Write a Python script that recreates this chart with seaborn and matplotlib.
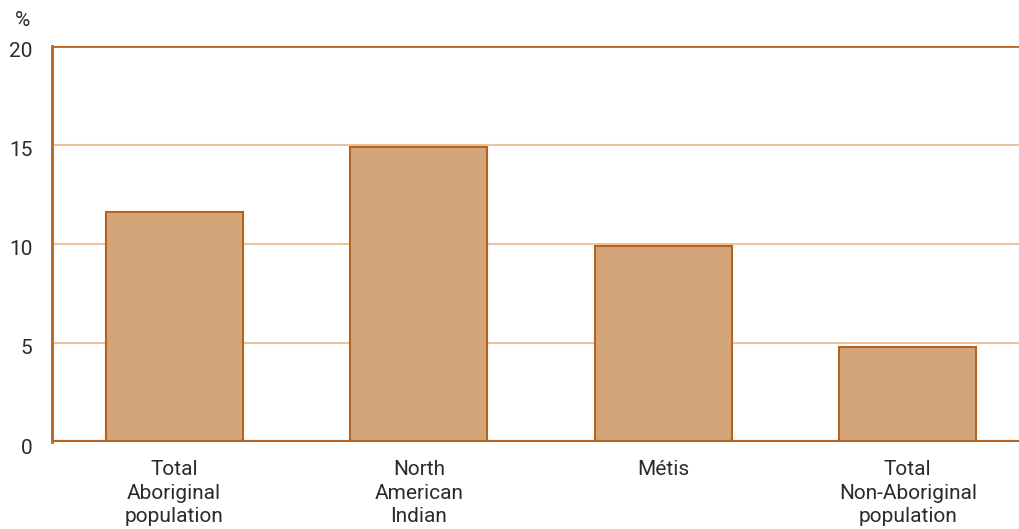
import matplotlib
matplotlib.use("Agg")
import matplotlib.pyplot as plt
import matplotlib.transforms as mtrans
import seaborn as sns
import pandas as pd

categories = ["Total\nAboriginal\npopulation", "North\nAmerican\nIndian", "Métis", "Total\nNon-Aboriginal\npopulation"]
values = [11.6, 14.9, 9.9, 4.8]
yticks = [0, 5, 10, 15, 20]

sns.set_theme(style="white")
plt.rcParams["font.family"] = ["Roboto", "DejaVu Sans"]

fill = "#D5A57A"
edge = "#B5631E"
grid = "#EBC39C"
txt = "#2b2b2b"

df = pd.DataFrame({"group": categories, "pct": values})

fig = plt.figure(figsize=(10.19, 5.29), dpi=100)
ax = fig.add_axes([52 / 1019, 87 / 529, 967 / 1019, 396 / 529])

sns.barplot(data=df, x="group", y="pct", color=fill, edgecolor=edge, linewidth=1.5,
            width=0.56, saturation=1, ax=ax, zorder=3)

ax.set_ylim(0, 20)
ax.set_xlim(-0.5, 3.455)
ax.set_yticks(yticks)
ax.set_yticklabels([str(t) for t in yticks], fontsize=15, color=txt)
for t in [5, 10, 15]:
    ax.axhline(t, color=grid, linewidth=1.5, zorder=1)
ax.axhline(20, color=edge, linewidth=2, zorder=4)
ax.axhline(0, color=edge, linewidth=3, zorder=4)

for s in ["top", "right", "bottom"]:
    ax.spines[s].set_visible(False)
ax.spines["left"].set_color(edge)
ax.spines["left"].set_linewidth(2)

ax.tick_params(axis="y", length=0, pad=14)
ax.tick_params(axis="x", length=0, pad=13, labelsize=15, labelcolor=txt)
shift = mtrans.ScaledTranslation(0, -4 / 100, fig.dpi_scale_trans)
for lab in ax.get_yticklabels():
    lab.set_transform(lab.get_transform() + shift)
for lab in ax.get_xticklabels():
    lab.set_linespacing(1.3)
ax.set_xlabel("")
ax.set_ylabel("")
fig.text(22 / 1019, 1 - 21 / 529, "%", fontsize=15, color=txt, ha="center", va="center")

fig.savefig("out.png", dpi=100)
